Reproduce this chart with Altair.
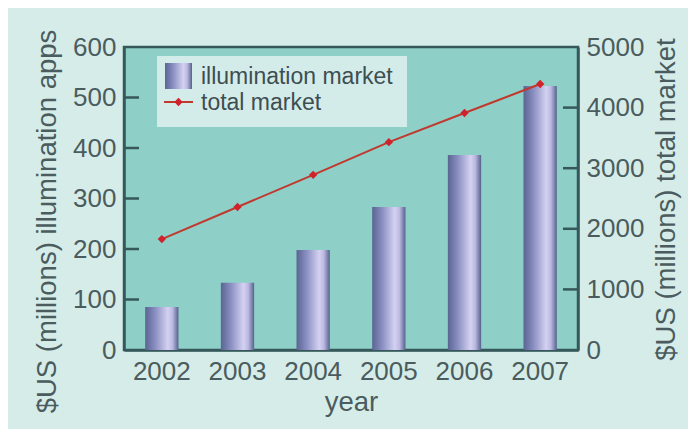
import altair as alt
import pandas as pd

years = ["2002", "2003", "2004", "2005", "2006", "2007"]
illumination = [85, 133, 198, 283, 386, 523]
total = [1830, 2360, 2890, 3430, 3910, 4390]
left_ticks = [100, 200, 300, 400, 500]
right_ticks = [1000, 2000, 3000, 4000]
series = ["illumination market", "total market"]

FONT = "Liberation Sans"
TXT = "#4a5c5d"
AX = "#36585a"
RED = "#c0392f"
PT = "#d0222a"

bars_df = pd.DataFrame({"year": years, "value": illumination})
line_df = pd.DataFrame({"year": years, "value": total})
lt_df = pd.DataFrame({"value": left_ticks})
rt_df = pd.DataFrame({"value": right_ticks})
one = pd.DataFrame({"k": [0]})

bar_grad = alt.Gradient(
    gradient="linear", x1=0, x2=1, y1=0, y2=0,
    stops=[
        alt.GradientStop(color="#5a6492", offset=0),
        alt.GradientStop(color="#8a8fc2", offset=0.3),
        alt.GradientStop(color="#d4d1f1", offset=0.68),
        alt.GradientStop(color="#bcb9e2", offset=0.82),
        alt.GradientStop(color="#55628c", offset=1),
    ],
)

xenc = alt.X(
    "year:O",
    title="year",
    scale=alt.Scale(paddingInner=0.56, paddingOuter=0.28),
    axis=alt.Axis(labelAngle=0, ticks=False, labelPadding=8, titlePadding=4),
)

left_axis = alt.Axis(values=[0, 100, 200, 300, 400, 500, 600], ticks=False, grid=False,
                     labelPadding=8, titlePadding=11, titleY=174)
left_scale = alt.Scale(domain=[0, 600], nice=False)

bars = alt.Chart(bars_df).mark_bar(color=bar_grad).encode(
    x=xenc,
    y=alt.Y("value:Q", title="$US (millions) illumination apps", scale=left_scale, axis=left_axis),
)
lticks = alt.Chart(lt_df).mark_rule(color=AX, strokeWidth=2.5).encode(
    y=alt.Y("value:Q", title="$US (millions) illumination apps", scale=left_scale, axis=left_axis),
    x=alt.value(0),
    x2=alt.value(15),
)
left = alt.layer(bars, lticks)

right_axis = alt.Axis(orient="right", values=[0, 1000, 2000, 3000, 4000, 5000], format="d",
                      ticks=False, grid=False, labelPadding=8, titleAngle=270,
                      titleBaseline="middle", titleX=88, titleY=152)
right_scale = alt.Scale(domain=[0, 5000], nice=False)

line = alt.Chart(line_df).mark_line(strokeWidth=2, color=RED).encode(
    x=xenc,
    y=alt.Y("value:Q", title="$US (millions) total market", scale=right_scale, axis=right_axis),
)
pts = alt.Chart(line_df).mark_point(shape="diamond", filled=True, size=70, color=PT,
                                     opacity=1).encode(
    x=xenc,
    y=alt.Y("value:Q", title="$US (millions) total market", scale=right_scale, axis=right_axis),
)
rticks = alt.Chart(rt_df).mark_rule(color=AX, strokeWidth=2.5).encode(
    y=alt.Y("value:Q", title="$US (millions) total market", scale=right_scale, axis=right_axis),
    x=alt.value(439),
    x2=alt.value(454),
)

# legend box (drawn by hand)
leg_bg = alt.Chart(one).mark_rect(color="#d3ecea").encode(
    x=alt.value(33), x2=alt.value(283), y=alt.value(9), y2=alt.value(80))
leg_bar = alt.Chart(one).mark_rect(color=bar_grad).encode(
    x=alt.value(41), x2=alt.value(68), y=alt.value(16), y2=alt.value(42))
leg_line = alt.Chart(one).mark_rule(color=RED, strokeWidth=2).encode(
    x=alt.value(40), x2=alt.value(69), y=alt.value(55))
leg_pt = alt.Chart(one).mark_point(shape="diamond", filled=True, size=70, color=PT,
                                   opacity=1).encode(x=alt.value(54.5), y=alt.value(55))
leg_t1 = alt.Chart(pd.DataFrame({"label": [series[0]]})).mark_text(
    align="left", baseline="middle", font=FONT, fontSize=23, color="#3e4e50").encode(
    text="label:N", x=alt.value(77), y=alt.value(30))
leg_t2 = alt.Chart(pd.DataFrame({"label": [series[1]]})).mark_text(
    align="left", baseline="middle", font=FONT, fontSize=23, color="#3e4e50").encode(
    text="label:N", x=alt.value(77), y=alt.value(56))

right = alt.layer(line, pts, rticks, leg_bg, leg_bar, leg_line, leg_pt, leg_t1, leg_t2)

chart = alt.layer(left, right).resolve_scale(y="independent").properties(
    width=454,
    height=303,
    autosize=alt.AutoSizeParams(type="none"),
    padding={"left": 116, "top": 39, "right": 110, "bottom": 79},
    background="#d6ece9",
).configure_view(
    fill="#8ecfc7", stroke=AX, strokeWidth=2.5,
).configure_axis(
    domainColor=AX, domainWidth=2.5,
    labelFont=FONT, labelFontSize=26, labelColor=TXT,
    titleFont=FONT, titleFontSize=27.5, titleColor=TXT, titleFontWeight="normal",
)

chart.save("out.html", embed_options={"renderer": "svg", "actions": False})
